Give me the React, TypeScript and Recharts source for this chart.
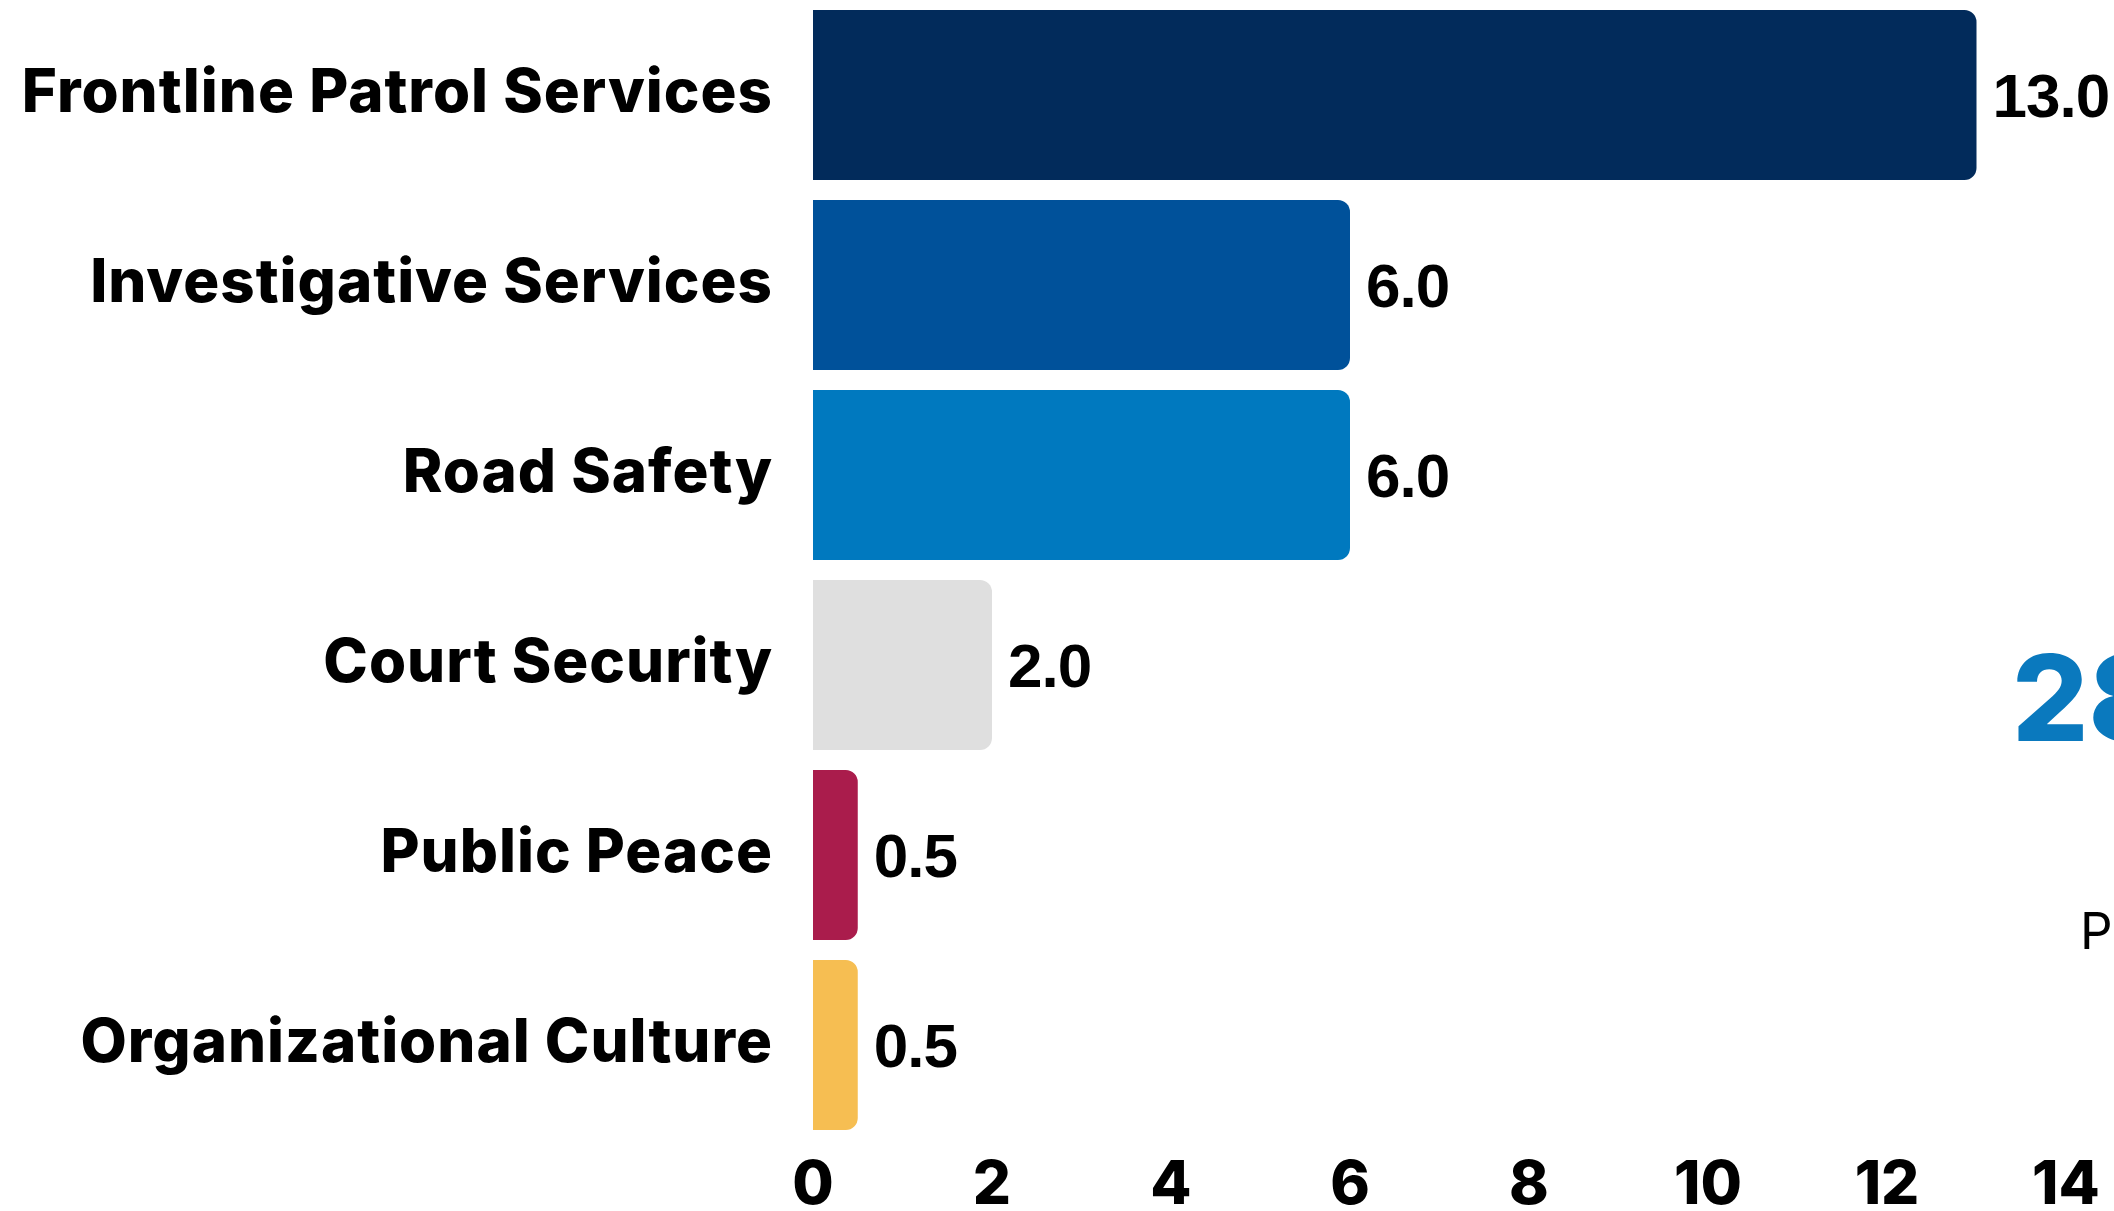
import { BarChart, Bar, XAxis, YAxis, Cell, LabelList } from 'recharts';

const categories = [
    'Frontline Patrol Services',
    'Investigative Services',
    'Road Safety',
    'Court Security',
    'Public Peace',
    'Organizational Culture',
];
const values = [13.0, 6.0, 6.0, 2.0, 0.5, 0.5];
const barColors = ['#022B5B', '#00519A', '#0079BF', '#DFDFDF', '#AA1C4C', '#F6BE52'];
const xTicks = [0, 2, 4, 6, 8, 10, 12, 14];

const data = categories.map((name, i) => ({ name, value: values[i] }));

const LABEL_FONT = 'Inter, "Open Sans", sans-serif';

const CategoryTick = ({ x, y, payload }: any) => (
    <text
        x={x}
        y={y}
        dy={17}
        textAnchor="end"
        fontFamily={LABEL_FONT}
        fontWeight={800}
        fontSize={60}
        letterSpacing={1}
        fill="#000"
    >
        {payload.value}
    </text>
)

const NumberTick = ({ x, y, payload }: any) => (
    <text
        x={x}
        y={y}
        dy={64}
        textAnchor="middle"
        fontFamily={LABEL_FONT}
        fontWeight={800}
        fontSize={60}
        fill="#000"
    >
        {payload.value}
    </text>
)

export default function App() {
    return (
        <div style={{ position: 'absolute', left: 0, top: 0, width: 2114, height: 1211, background: '#fff', overflow: 'hidden' }}>
            <BarChart
                width={2114}
                height={1211}
                data={data}
                layout="vertical"
                margin={{ top: 0, right: 48, bottom: 0, left: 0 }}
                barCategoryGap={10}
            >
                <XAxis
                    type="number"
                    domain={[0, 14]}
                    ticks={xTicks}
                    axisLine={false}
                    tickLine={false}
                    tickSize={0}
                    tickMargin={0}
                    height={71}
                    tick={<NumberTick />}
                    interval={0}
                />
                <YAxis
                    type="category"
                    dataKey="name"
                    width={813}
                    axisLine={false}
                    tickLine={false}
                    tickSize={0}
                    tickMargin={40}
                    tick={<CategoryTick />}
                    interval={0}
                />
                <Bar dataKey="value" radius={[0, 12, 12, 0]} isAnimationActive={false}>
                    {data.map((d, i) => (
                        <Cell key={d.name} fill={barColors[i]} />
                    ))}
                    <LabelList
                        dataKey="value"
                        position="right"
                        offset={16}
                        formatter={(v: any) => Number(v).toFixed(1)}
                        style={{ fontFamily: '"Liberation Sans", Arial, sans-serif', fontWeight: 700, fontSize: 62, letterSpacing: -1, fill: '#000' }}
                    />
                </Bar>
            </BarChart>
            {/* partly visible summary card on the right edge */}
            <svg width={2114} height={1211} style={{ position: 'absolute', left: 0, top: 0, pointerEvents: 'none' }}>
                <text x={2012} y={741} fontFamily={LABEL_FONT} fontWeight={800} fontSize={120} fill="#0A79BE">28</text>
                <text x={2080} y={949} fontFamily={LABEL_FONT} fontWeight={400} fontSize={51} fill="#000">P</text>
            </svg>
        </div>
    )
}
